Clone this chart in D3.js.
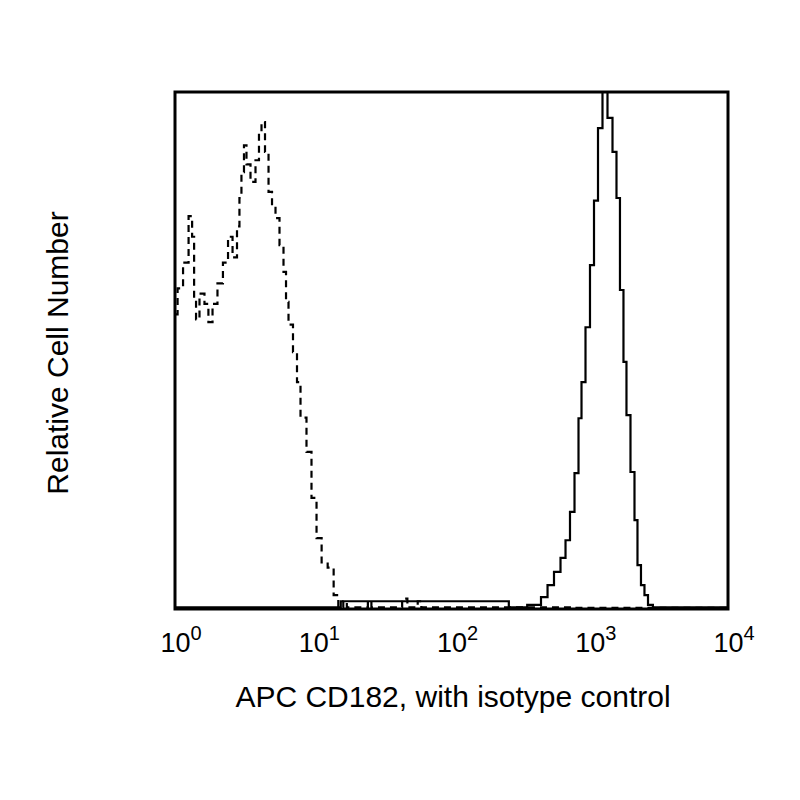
<!DOCTYPE html>
<html><head><meta charset="utf-8">
<script src="https://cdn.jsdelivr.net/npm/d3@7"></script>
<style>body{margin:0;background:#fff}</style></head>
<body><svg id="c" width="800" height="800"></svg>
<script>
const tickValues = [1, 10, 100, 1000, 10000];
const tickExponents = ["0", "1", "2", "3", "4"];
// isotype control (dashed)
const isoX = [1.0,1.09,1.20,1.31,1.35,1.40,1.44,1.57,1.70,1.79,1.95,2.11,2.34,2.50,2.72,2.90,2.95,3.10,3.21,3.37,3.67,3.98,4.12,4.33,4.63,4.87,5.20,5.47,5.94,6.25,6.46,6.79,7.50,7.76,8.43,9.47,9.96,11.2,11.8,13.7,14.4,16,17,18,24,25.7,27,42,46,50,55,59,62,10000];
const isoY = [57,62,67,76,72,60,56,61,59,55.5,59,63,67,72,68,74,79.5,84.5,89.7,86,82.6,86.8,92.3,94.2,88.4,80.7,78,75.6,70.4,65.2,59.4,55,49.7,43.9,37,30.4,21.5,13.7,9,8,2.7,0.3,1.5,0.3,0.3,1.5,0.3,0.3,2,0.3,0.3,1.5,0.3,0.2];
// APC CD182 (solid)
const cdX = [1,250,270,300,415,475,516,589,641,696,744,809,850,894,971,1038,1110,1186,1289,1401,1523,1600,1710,1798,1890,2055,2160,2270,2427,2550,2730,3000,10000];
const cdY = [0.3,1.5,0.3,0.3,0.8,2.3,4.6,7.2,9.9,13.3,18.8,26.3,36.9,43.9,54.5,66.5,79,93,100,95,88.4,79.5,61.7,47.8,37.5,26.5,17.2,8.5,4.6,2.7,0.8,0.3,0.3];

const svg = d3.select("#c");
const L=175,R=728,T=92,B=609;
const x = d3.scaleLog().domain([1,10000]).range([L,R]);
const y = d3.scaleLinear().domain([0,100]).range([B,T]);
const line = d3.line().x(d=>x(d[0])).y(d=>y(d[1])).curve(d3.curveStep);

svg.append("path").datum(isoX.map((v,i)=>[v,isoY[i]]))
  .attr("d",line).attr("fill","none").attr("stroke","#000").attr("stroke-width",2.2)
  .attr("stroke-dasharray","7,5");
svg.append("path").datum(cdX.map((v,i)=>[v,cdY[i]]))
  .attr("d",line).attr("fill","none").attr("stroke","#000").attr("stroke-width",2.2);

svg.append("rect").attr("x",L).attr("y",T).attr("width",R-L).attr("height",B-T)
  .attr("fill","none").attr("stroke","#000").attr("stroke-width",3);

const ax = svg.append("g").attr("transform",`translate(0,${B})`)
  .call(d3.axisBottom(x).tickValues(tickValues).tickSize(0).tickFormat(""));
ax.select(".domain").remove();
const font="Liberation Sans, Arial, sans-serif";
tickValues.forEach((v,i)=>{
  const t = svg.append("text").attr("x",x(v)+6).attr("y",652).attr("text-anchor","middle")
    .attr("font-family",font).attr("font-size",27);
  t.append("tspan").text("10");
  t.append("tspan").attr("dy",-12).attr("font-size",20).text(tickExponents[i]);
});
svg.append("text").attr("x",453).attr("y",707).attr("text-anchor","middle")
  .attr("font-family",font).attr("font-size",30).text("APC CD182, with isotype control");
svg.append("text").attr("transform","translate(68,353) rotate(-90)").attr("text-anchor","middle")
  .attr("font-family",font).attr("font-size",30).text("Relative Cell Number");
</script></body></html>
